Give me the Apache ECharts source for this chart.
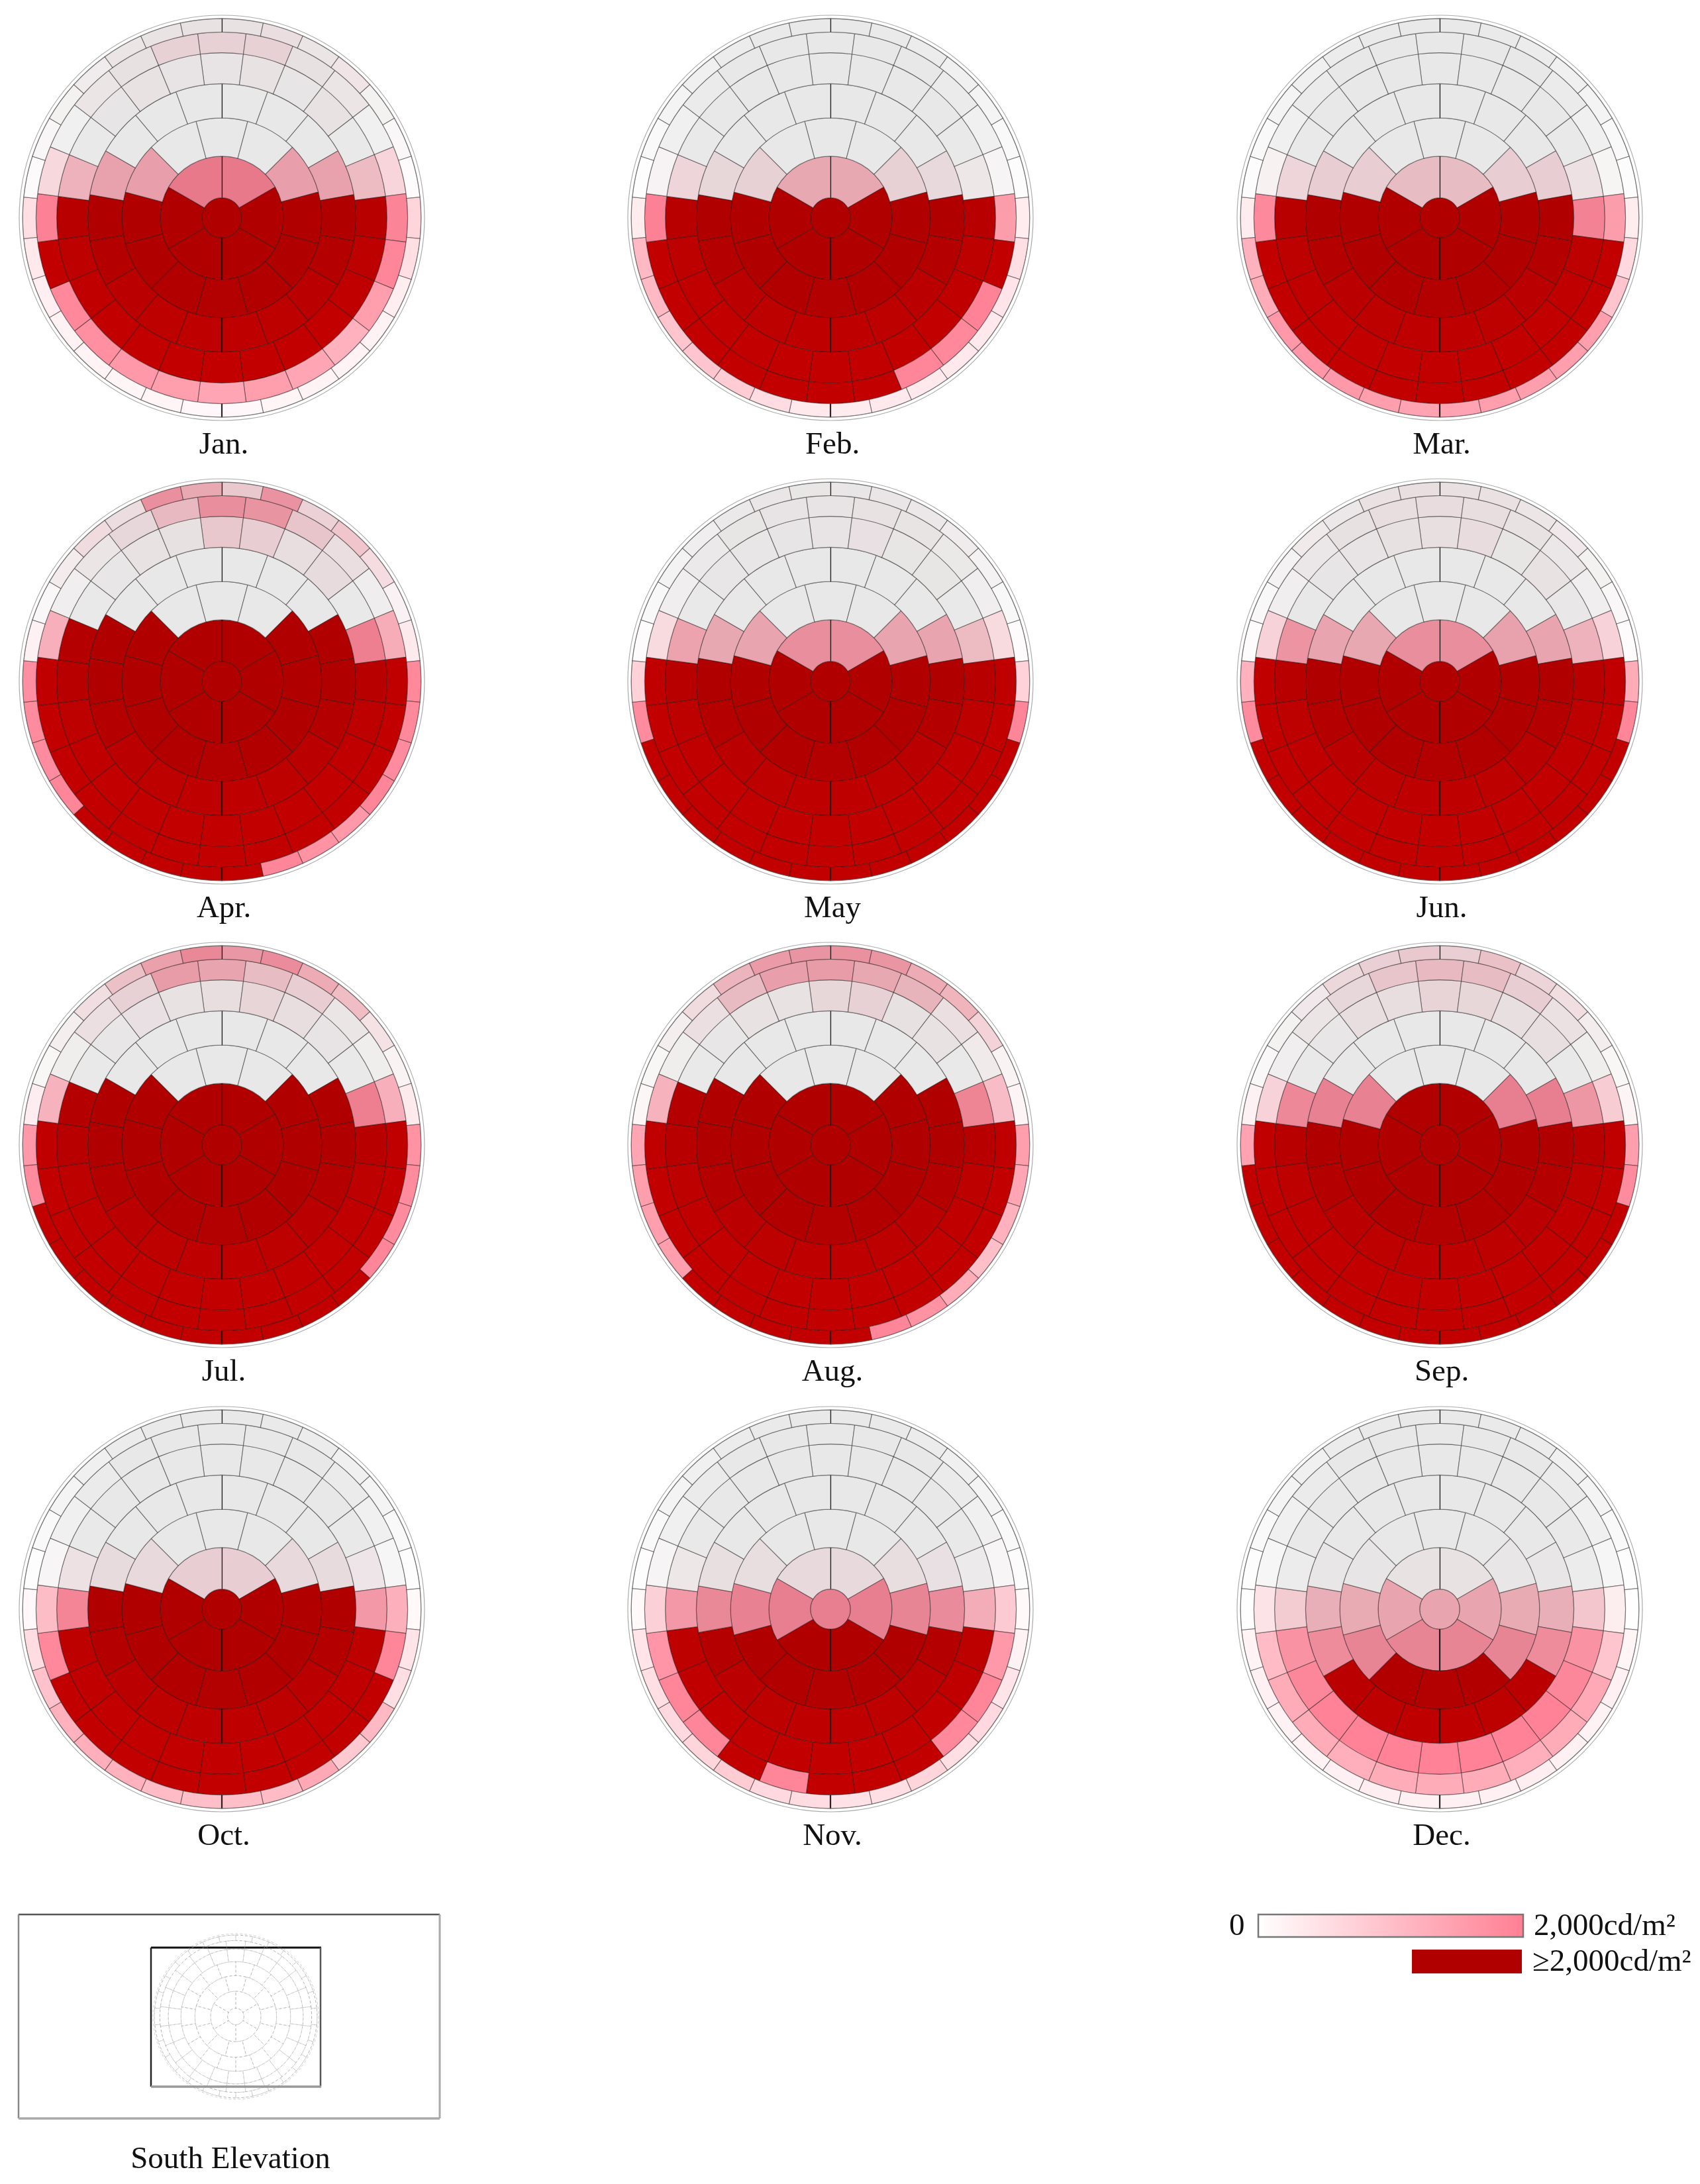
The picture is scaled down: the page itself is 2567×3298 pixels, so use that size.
<!DOCTYPE html>
<html>
<head>
<meta charset="utf-8">
<title>Sky luminance</title>
<script src="https://cdn.jsdelivr.net/npm/echarts@6/dist/echarts.min.js"></script>
<style>
html, body { margin: 0; background: #fff; }
#main { width: 2567px; height: 3298px; }
</style>
</head>
<body>
<div id="main"></div>
<script>
// luminance per sky patch, cd/m2. rings run from zenith outward, patches clockwise from north
// H = above the 2,000 limit, the picture doesn't say how far
var H = 2500
var months = ['Jan.', 'Feb.', 'Mar.', 'Apr.', 'May', 'Jun.', 'Jul.', 'Aug.', 'Sep.', 'Oct.', 'Nov.', 'Dec.']
var ringSectors = [1, 6, 12, 18, 24, 24, 30]

var jan = [[H], [1900,H,H,H,H,1900],
    [0,0,1250,H,H,H,H,H,H,H,1250,0],
    [0,0,0,1200,H,H,H,H,H,H,H,H,H,H,1200,0,0,0],
    [80,100,50,100,0,850,H,H,H,H,H,H,H,H,H,H,H,H,H,1000,0,50,100,80],
    [400,400,120,100,0,550,1900,1900,1500,1200,1400,1500,1400,1500,1600,1750,1850,H,1950,500,0,100,120,400],
    [120,200,120,200,60,40,40,650,500,280,200,180,180,150,120,120,150,170,180,200,250,350,500,50,50,60,80,120,120,120]]
var feb = [[H], [1100,H,H,H,H,1100],
    [0,0,400,H,H,H,H,H,H,H,400,0],
    [0,0,0,250,H,H,H,H,H,H,H,H,H,H,300,0,0,0],
    [0,0,0,0,0,100,H,H,H,H,H,H,H,H,H,H,H,H,H,400,0,0,0,0],
    [0,0,0,0,0,40,1500,H,1950,1850,1900,H,H,H,H,H,H,H,1950,60,0,0,0,0],
    [0,0,0,0,0,0,20,300,500,400,350,350,350,350,300,350,550,800,900,900,1100,1100,300,10,0,0,0,0,0,0]]
var mar = [[H], [750,H,H,H,H,750],
    [0,0,450,H,H,H,H,H,H,H,450,0],
    [0,0,0,450,H,H,H,H,H,H,H,H,H,H,450,0,0,0],
    [0,0,0,0,0,200,1850,H,H,H,H,H,H,H,H,H,H,H,H,400,0,0,0,0],
    [0,0,0,0,0,50,1500,H,H,H,H,H,H,H,H,H,H,H,1800,100,0,0,0,0],
    [0,0,0,0,0,0,20,300,600,900,1500,1500,1500,1500,1450,1450,1500,1600,1650,1600,1300,1200,300,20,0,0,0,0,0,0]]
var apr = [[H], [H,H,H,H,H,H],
    [0,0,H,H,H,H,H,H,H,H,H,0],
    [0,0,0,H,H,H,H,H,H,H,H,H,H,H,H,0,0,0],
    [550,450,180,230,0,1850,H,H,H,H,H,H,H,H,H,H,H,H,H,H,0,30,100,120],
    [1550,1450,600,220,50,1200,H,H,H,H,H,H,H,H,H,H,H,H,H,1150,40,100,300,800],
    [550,1500,450,700,400,130,300,1850,1850,1800,1900,1600,1700,1900,H,H,H,H,H,1900,1800,1800,1750,200,40,150,350,250,1550,1100]]
var may = [[H], [1550,H,H,H,H,1550],
    [0,0,1150,H,H,H,H,H,H,H,1150,0],
    [0,0,0,1150,H,H,H,H,H,H,H,H,H,H,1100,0,0,0],
    [80,130,60,60,0,850,H,H,H,H,H,H,H,H,H,H,H,H,H,1250,0,30,40,50],
    [80,100,80,50,30,450,H,H,H,H,H,H,H,H,H,H,H,H,H,450,30,40,60,80],
    [50,80,80,60,40,30,30,700,1900,H,H,H,H,H,H,H,H,H,H,H,H,1800,700,30,30,30,30,50,60,60]]
var jun = [[H], [1550,H,H,H,H,1550],
    [0,0,1200,H,H,H,H,H,H,H,1100,0],
    [0,0,0,1150,H,H,H,H,H,H,H,H,H,H,1150,0,0,0],
    [150,200,60,100,30,1000,H,H,H,H,H,H,H,H,H,H,H,H,H,1500,20,50,80,120],
    [200,170,100,80,40,600,H,H,H,H,H,H,H,H,H,H,H,H,H,600,30,60,120,170],
    [150,150,100,120,60,40,40,1300,1900,H,H,H,H,H,H,H,H,H,H,H,H,1800,1200,40,30,40,100,90,150,170]]
var jul = [[H], [H,H,H,H,H,H],
    [0,0,H,H,H,H,H,H,H,H,H,0],
    [0,0,0,H,H,H,H,H,H,H,H,H,H,H,H,0,0,0],
    [180,320,170,80,0,1850,H,H,H,H,H,H,H,H,H,H,H,H,H,H,0,40,130,100],
    [1150,750,450,100,60,1150,H,H,H,H,H,H,H,H,H,H,H,H,H,1100,60,200,400,1300],
    [1400,1600,1100,850,300,100,300,1700,1800,1800,1900,H,H,H,H,H,H,H,H,H,H,1800,1600,250,60,100,300,750,1250,1650]]
var aug = [[H], [H,H,H,H,H,H],
    [0,0,H,H,H,H,H,H,H,H,H,0],
    [0,0,0,H,H,H,H,H,H,H,H,H,H,H,H,0,0,0],
    [300,400,120,100,0,1750,H,H,H,H,H,H,H,H,H,H,H,H,H,H,0,40,100,100],
    [1300,1100,900,200,100,950,H,H,H,H,H,H,H,H,H,H,H,H,H,1100,60,200,800,1250],
    [1500,1450,1100,1000,550,100,150,1500,1400,1200,1000,1300,1700,1900,H,H,H,H,H,1500,1500,1500,1400,120,60,100,350,950,1350,1450]]
var sep = [[H], [H,H,H,H,H,H],
    [0,0,1800,H,H,H,H,H,H,H,1750,0],
    [0,0,0,1800,H,H,H,H,H,H,H,H,H,H,1750,0,0,0],
    [350,300,150,150,0,1450,H,H,H,H,H,H,H,H,H,H,H,H,H,1700,0,30,170,170],
    [800,750,450,180,60,700,H,H,H,H,H,H,H,H,H,H,H,H,H,600,40,100,300,600],
    [450,700,400,300,120,60,150,1500,1800,H,H,H,H,H,H,H,H,H,H,H,H,H,1450,200,40,60,120,350,450,550]]
var oct = [[H], [450,H,H,H,H,450],
    [0,0,250,H,H,H,H,H,H,H,250,0],
    [0,0,0,220,H,H,H,H,H,H,H,H,H,H,220,0,0,0],
    [0,0,0,0,0,130,1500,H,H,H,H,H,H,H,H,H,H,H,1800,200,0,0,0,0],
    [0,0,0,0,0,20,1200,1900,H,H,H,H,H,H,H,H,H,1850,1000,30,0,0,0,0],
    [0,0,0,0,0,0,10,100,400,500,1100,850,1350,1050,1000,1000,1050,1200,1250,1200,950,550,120,0,0,0,0,0,0,0]]
var nov = [[1800], [250,1800,H,H,1800,250],
    [0,0,170,1700,H,H,H,H,H,1750,170,0],
    [0,0,0,130,1600,H,H,H,H,H,H,H,H,1650,150,0,0,0],
    [0,0,0,0,0,50,1150,H,H,H,H,H,H,H,H,H,H,H,1500,100,0,0,0,0],
    [0,0,0,0,0,30,800,1600,1900,1850,H,H,H,1900,H,1900,1900,1650,700,40,0,0,0,0],
    [0,0,0,0,0,0,20,100,200,400,600,500,650,500,450,550,600,800,650,600,500,400,100,0,0,0,0,0,0,0]]
var dec = [[1150], [100,1150,1700,1700,1150,100],
    [0,0,30,1050,1700,H,H,H,1700,1050,50,0],
    [0,0,0,30,1000,1650,H,H,H,H,H,H,1650,1000,30,0,0,0],
    [0,0,0,0,0,20,750,1650,1850,1950,1950,1950,1950,1950,1950,1950,1850,1650,650,20,0,0,0,0],
    [0,0,0,0,0,10,250,900,1350,1300,1250,1300,1300,1300,1250,1300,1300,1050,400,10,0,0,0,0],
    [0,0,0,0,0,0,0,10,150,220,200,230,260,220,220,220,260,230,200,200,220,180,10,0,0,0,0,0,0,0]]
var monthValues = [jan, feb, mar, apr, may, jun, jul, aug, sep, oct, nov, dec]

// layout
var colX = [335, 1254, 2174]
var rowY = [329, 1029, 1729, 2430]
var chartRadius = 306
var ringEdges = [0, 0.099, 0.304, 0.493, 0.662, 0.815, 0.917, 0.983, 1]

var serif = '"Liberation Serif", "Times New Roman", serif'
var limit = 2000

// fraction of the dome that is shaded: grey around the upper middle, clean toward the lower rim
function shadeAt(r, angle) {
    var a = angle * Math.PI / 180
    var x = r * Math.sin(a)
    var y = r * Math.cos(a)
    var d = Math.sqrt(x * x + (y - 0.3) * (y - 0.3))
    var t = Math.max(0, Math.min(1, (d - 0.6) / 0.4))
    return 0.91 + 0.09 * t * t * (3 - 2 * t)
}

function cellColor(v, shade) {
    var rgb
    if (v >= limit) {
        rgb = [194, 0, 0]
    } else {
        var t = v / limit
        rgb = [255, 255 - 128 * t, 255 - 108 * t]
    }
    return 'rgb(' + Math.round(rgb[0] * shade) + ',' + Math.round(rgb[1] * shade) + ',' + Math.round(rgb[2] * shade) + ')'
}

// [r0, r1, angle start, angle width, value]; value -1 means outline only (key plan), -2 the rim
function buildCells(values) {
    var cells = []
    ringSectors.forEach(function (n, i) {
        var w = 360 / n
        var offset = n % 4 === 0 ? w / 2 : 0
        for (var k = 0; k < n; k++) {
            cells.push([ringEdges[i], ringEdges[i + 1], (k * w - offset + 360) % 360, w, values ? values[i][k] : -1])
        }
    })
    cells.push([ringEdges[7], ringEdges[8], 0, 360, values ? -2 : -1])
    return cells
}

function renderCell(params, api) {
    var c = params.coordSys
    var r0 = api.value(0), r1 = api.value(1), a0 = api.value(2), w = api.value(3), v = api.value(4)
    var pIn = api.coord([r0, a0])
    var pOut = api.coord([r1, a0])
    var pEnd = api.coord([r1, (a0 + w) % 360])
    var start = Math.atan2(pOut[1] - c.cy, pOut[0] - c.cx)
    var end = Math.atan2(pEnd[1] - c.cy, pEnd[0] - c.cx)
    if (w >= 360) {
        start = 0
        end = Math.PI * 2
    } else if (end < start) {
        end += Math.PI * 2
    }
    var style
    if (v === -2) {
        style = { fill: 'none', stroke: 'rgba(90,90,90,0.5)', lineWidth: 1.2 }
    } else if (v === -1) {
        style = { fill: 'none', stroke: 'rgba(150,150,150,0.45)', lineWidth: 1, lineDash: [4, 3] }
    } else {
        style = {
            fill: cellColor(v, shadeAt((r0 + r1) / 2, a0 + w / 2)),
            stroke: 'rgba(25,20,20,0.45)',
            lineWidth: 1.2
        }
    }
    var sector = {
        type: 'sector',
        shape: {
            cx: c.cx, cy: c.cy,
            r0: Math.sqrt(Math.pow(pIn[0] - c.cx, 2) + Math.pow(pIn[1] - c.cy, 2)),
            r: Math.sqrt(Math.pow(pOut[0] - c.cx, 2) + Math.pow(pOut[1] - c.cy, 2)),
            startAngle: start, endAngle: end, clockwise: true
        },
        style: style
    }
    // north-south meridian is drawn heavier wherever a ring is split on it
    if (v >= 0 && w < 360 && a0 % 180 === 0) {
        return {
            type: 'group',
            children: [sector, {
                type: 'line',
                shape: { x1: pIn[0], y1: pIn[1], x2: pOut[0], y2: pOut[1] },
                style: { stroke: 'rgba(20,15,15,0.85)', lineWidth: 2.2 }
            }]
        }
    }
    return sector
}

var polar = [], angleAxis = [], radiusAxis = [], series = [], graphic = []

function addDome(cx, cy, radius, values) {
    var i = polar.length
    polar.push({ center: [cx, cy], radius: radius })
    angleAxis.push({
        polarIndex: i, type: 'value', min: 0, max: 360, startAngle: 90, clockwise: true,
        axisLine: { show: false }, axisTick: { show: false }, axisLabel: { show: false }, splitLine: { show: false }
    })
    radiusAxis.push({
        polarIndex: i, type: 'value', min: 0, max: 1,
        axisLine: { show: false }, axisTick: { show: false }, axisLabel: { show: false }, splitLine: { show: false }
    })
    series.push({
        type: 'custom', coordinateSystem: 'polar', polarIndex: i, silent: true,
        renderItem: renderCell, data: buildCells(values)
    })
}

function addText(text, x, y, align) {
    graphic.push({
        type: 'text', x: x, y: y, silent: true,
        style: { text: text, fill: '#111', font: '47px ' + serif, textAlign: align, textVerticalAlign: 'middle' }
    })
}

function addLine(x1, y1, x2, y2, color, width) {
    graphic.push({
        type: 'line', silent: true,
        shape: { x1: x1, y1: y1, x2: x2, y2: y2 },
        style: { stroke: color, lineWidth: width }
    })
}

months.forEach(function (name, m) {
    var cx = colX[m % 3], cy = rowY[Math.floor(m / 3)]
    addDome(cx, cy, chartRadius, monthValues[m])
    addText(name, cx + 3, cy + 344, 'center')
})

// key plan of the south elevation
addDome(356, 3045, 125, null)
addLine(28, 2891, 664, 2891, '#555', 2.5)
addLine(28, 2891, 28, 3199, '#888', 2.5)
addLine(664, 2891, 664, 3199, '#aaa', 3)
addLine(28, 3199, 664, 3199, '#aaa', 3.5)
addLine(228, 2941, 485, 2941, '#111', 3)
addLine(228, 2941, 228, 3151, '#222', 2.5)
addLine(484, 2941, 484, 3151, '#555', 2.5)
addLine(228, 3151, 485, 3151, '#999', 3.5)
addText('South Elevation', 348, 3262, 'center')

// legend
graphic.push({
    type: 'rect', silent: true,
    shape: { x: 1900, y: 2891, width: 400, height: 34 },
    style: {
        fill: new echarts.graphic.LinearGradient(0, 0, 1, 0, [
            { offset: 0, color: '#ffffff' },
            { offset: 1, color: '#ff7f93' }
        ]),
        stroke: '#777', lineWidth: 2.5
    }
})
graphic.push({
    type: 'rect', silent: true,
    shape: { x: 2132, y: 2944, width: 166, height: 36 },
    style: { fill: '#b00000' }
})
addText('0', 1856, 2910, 'left')
addText('2,000cd/m²', 2316, 2910, 'left')
addText('≥2,000cd/m²', 2314, 2964, 'left')

var chart = echarts.init(document.getElementById('main'), null, { renderer: 'canvas' })
chart.setOption({
    animation: false,
    backgroundColor: '#fff',
    polar: polar,
    angleAxis: angleAxis,
    radiusAxis: radiusAxis,
    series: series,
    graphic: { elements: graphic }
})
</script>
</body>
</html>
